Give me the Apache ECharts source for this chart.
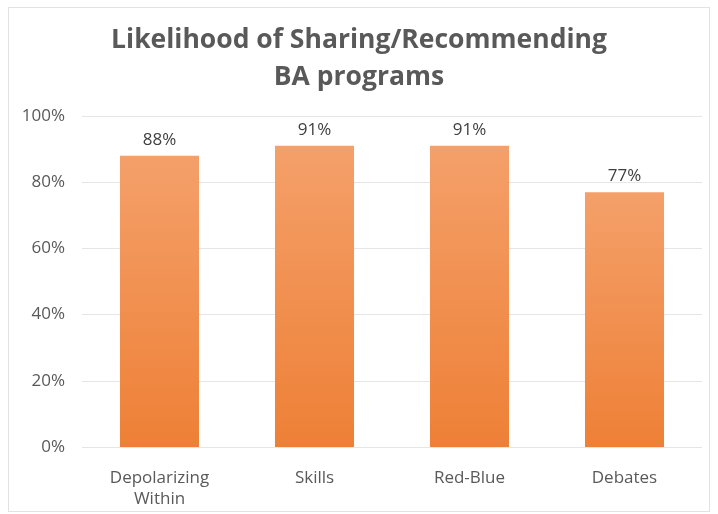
<!DOCTYPE html>
<html>
<head>
<meta charset="UTF-8">
<title>Likelihood of Sharing/Recommending BA programs</title>
<script src="https://cdn.jsdelivr.net/npm/echarts@6/dist/echarts.min.js"></script>
<style>
    html, body { margin: 0; padding: 0; background: #fff; }
    #chart { position: absolute; left: 8px; top: 7px; width: 702px; height: 505px; border: 1px solid #e2e2e2; box-sizing: border-box; }
</style>
</head>
<body>
    <div id="chart"></div>
<script type="text/javascript">
    var categories = ['Depolarizing\nWithin', 'Skills', 'Red-Blue', 'Debates'];
    var shares = [88, 91, 91, 77];
    var yTicks = [0, 20, 40, 60, 80, 100];

    var myChart = echarts.init(document.getElementById('chart'));

    var option = {
        backgroundColor: '#fff',
        title: {
            text: 'Likelihood of Sharing/Recommending\nBA programs',
            left: 'center',
            top: 9,
            textStyle: {
                color: '#595959',
                fontFamily: 'Open Sans',
                fontSize: 26.5,
                fontWeight: 'bold',
                lineHeight: 37
            }
        },
        grid: {
            left: 73,
            right: 7,
            top: 108,
            bottom: 64,
            outerBoundsMode: 'none'
        },
        xAxis: {
            type: 'category',
            data: categories,
            axisLine: { show: false },
            axisTick: { show: false },
            axisLabel: {
                color: '#595959',
                fontFamily: 'Open Sans',
                fontSize: 17,
                lineHeight: 21,
                margin: 21
            }
        },
        yAxis: {
            type: 'value',
            min: yTicks[0],
            max: yTicks[yTicks.length - 1],
            interval: 20,
            axisLine: { show: false },
            axisTick: { show: false },
            axisLabel: {
                color: '#595959',
                fontFamily: 'Open Sans',
                fontSize: 17,
                margin: 17,
                formatter: '{value}%'
            },
            splitLine: { lineStyle: { color: '#e6e6e6', width: 1 } }
        },
        series: [{
            type: 'bar',
            data: shares,
            barCategoryGap: '49%',
            itemStyle: {
                color: new echarts.graphic.LinearGradient(0, 0, 0, 1, [
                    { offset: 0, color: '#f4a06a' },
                    { offset: 1, color: '#ee8036' }
                ])
            },
            label: {
                show: true,
                position: 'top',
                distance: 7,
                color: '#404040',
                fontFamily: 'Open Sans',
                fontSize: 17,
                formatter: '{c}%'
            }
        }]
    };
    myChart.setOption(option);
</script>
</body>
</html>
